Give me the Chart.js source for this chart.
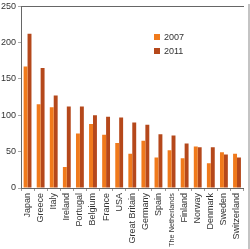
<!DOCTYPE html>
<html>
<head>
<meta charset="utf-8">
<script src="https://cdn.jsdelivr.net/npm/chart.js@4/dist/chart.umd.min.js"></script>
<style>
  body { margin: 0; background: #fff; }
  #wrap { position: relative; width: 250px; height: 249px; }
  #edge { position: absolute; left: 248px; top: 4px; width: 2px; bottom: 0; background: #c4c4c4; }
  #legend { position: absolute; left: 154px; top: 31px; font: 9px "Liberation Sans", Arial, sans-serif; color: #333; }
  #legend div { height: 14px; line-height: 12px; white-space: nowrap; }
  #legend span { display: inline-block; width: 6px; height: 6px; margin-right: 4px; vertical-align: -0px; }
</style>
</head>
<body>
<div id="wrap">
  <canvas id="chart" width="250" height="249"></canvas>
  <div id="edge"></div>
  <div id="legend"></div>
</div>
<script>
const countries = ["Japan", "Greece", "Italy", "Ireland", "Portugal", "Belgium", "France", "USA",
  "Great Britain", "Germany", "Spain", "The Netherlands", "Finland", "Norway", "Denmark", "Sweden", "Switzerland"];
const debt2007 = [167, 115, 111, 29, 75, 88, 73, 62, 47, 65, 42, 52, 41, 57, 34, 49, 47];
const debt2011 = [212, 165, 127, 112, 112, 100, 98, 97, 90, 87, 74, 72, 61, 56, 56, 46, 42];
const yTicks = [0, 50, 100, 150, 200, 250];

const colors = ["#f07a1c", "#b5481b"];
const labels = ["2007", "2011"];

// shrink a category label only when it would not fit below the axis
const measure = document.createElement("canvas").getContext("2d");
function labelFont(ctx) {
  const text = countries[ctx.index] || "";
  measure.font = "9px 'Liberation Sans'";
  const w = measure.measureText(text).width;
  return { family: "Liberation Sans", size: w > 54 ? 9 * 54 / w : 9 };
}

const chart = new Chart(document.getElementById("chart"), {
  type: "bar",
  data: {
    labels: countries,
    datasets: [
      { label: labels[0], data: debt2007, backgroundColor: colors[0] },
      { label: labels[1], data: debt2011, backgroundColor: colors[1] },
    ],
  },
  options: {
    responsive: false,
    animation: false,
    layout: { padding: { top: 0, right: 2, left: 0, bottom: 0 } },
    datasets: { bar: { categoryPercentage: 0.6, barPercentage: 1 } },
    plugins: { legend: { display: false }, tooltip: { enabled: false } },
    scales: {
      x: {
        grid: { offset: true, drawOnChartArea: false, tickLength: 3, color: "#999" },
        border: { color: "#666" },
        ticks: {
          minRotation: 90, maxRotation: 90, padding: 2, autoSkip: false,
          color: "#333", font: labelFont,
        },
        afterFit: (s) => { s.height = 61; },
      },
      top: {
        position: "top",
        grid: { display: false },
        ticks: { display: false },
        border: { color: "#666" },
        afterFit: (s) => { s.height = 0; },
      },
      y: {
        min: 0, max: 250,
        afterBuildTicks: (s) => { s.ticks = yTicks.map((v) => ({ value: v })); },
        grid: { drawOnChartArea: false, tickLength: 3, color: "#aaa" },
        border: { color: "#666" },
        ticks: {
          padding: 2, color: "#333",
          font: { family: "Liberation Sans", size: 9, lineHeight: 0.9 },
        },
        afterFit: (s) => { s.width = 21; },
      },
    },
  },
});

const legend = document.getElementById("legend");
chart.data.datasets.forEach((ds) => {
  const row = document.createElement("div");
  row.innerHTML = '<span style="background:' + ds.backgroundColor + '"></span>' + ds.label;
  legend.appendChild(row);
});
</script>
</body>
</html>
